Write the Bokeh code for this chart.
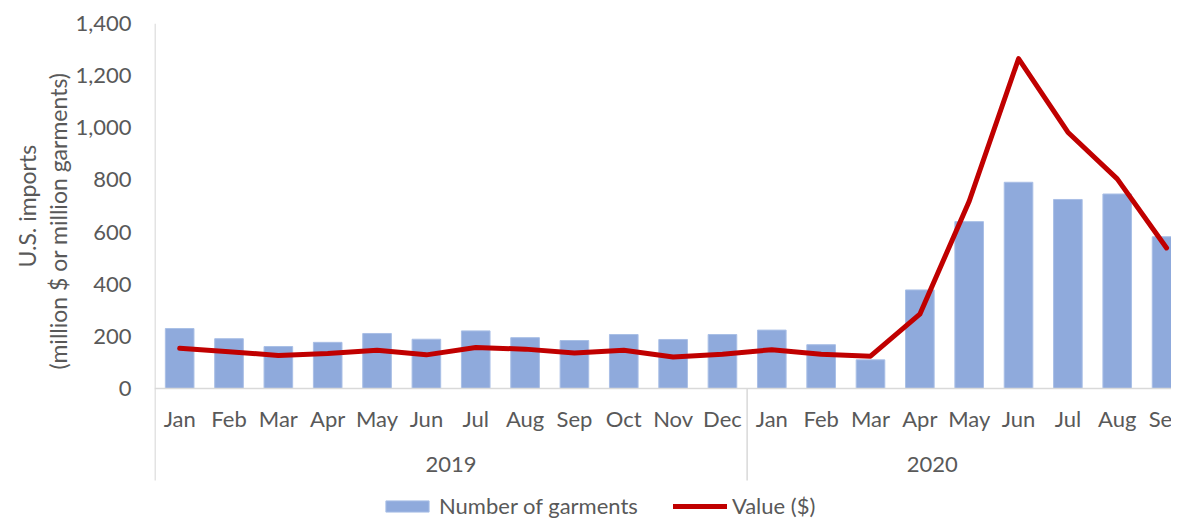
from bokeh.plotting import figure
from bokeh.models import (Range1d, FixedTicker, Legend, LegendItem, Span, Title,
                          ColumnDataSource, NumeralTickFormatter)
from bokeh.core.properties import value
from bokeh.embed import file_html
from bokeh.resources import INLINE

months = ["Jan", "Feb", "Mar", "Apr", "May", "Jun", "Jul", "Aug", "Sep", "Oct", "Nov", "Dec",
          "Jan", "Feb", "Mar", "Apr", "May", "Jun", "Jul", "Aug", "Sep"]
years = ["2019"] * 12 + ["2020"] * 9
garments = [230, 191, 161, 177, 211, 189, 221, 195, 184, 207, 188, 207,
            224, 168, 110, 378, 640, 791, 725, 746, 582]
value_usd = [154, 141, 127, 134, 147, 129, 157, 151, 136, 147, 121, 131,
             149, 131, 124, 285, 718, 1265, 983, 804, 539]
y_ticks = [0, 200, 400, 600, 800, 1000, 1200, 1400]
year_labels = ["2019", "2020"]
y_title = ["U.S. imports", "(million $ or million garments)"]

# layout constants (data units of the category / value scales)
YEAR_POS = [5.5, 15.25]
DIVIDERS = [-0.5, 11.5]
MONTH_Y = -115
YEAR_Y = -292
AXIS_BOTTOM = -353
# pixel offsets of the two title lines from the bottom of the plot frame
TITLE_OFFSETS = [252, 150]

FONT = "Lato"
TXT = "#595959"
GRAY = "#D9D9D9"
FS = "22px"

x = list(range(len(months)))
src = ColumnDataSource(dict(x=x, month=months, year=years,
                            garments=garments, value=value_usd))
ysrc = ColumnDataSource(dict(x=YEAR_POS, label=year_labels))

p = figure(width=1171, height=519, output_backend="svg", toolbar_location=None,
           x_range=Range1d(-0.51, 20.1), y_range=Range1d(-502.5, 1400),
           min_border_left=154, min_border_right=0, min_border_top=23,
           min_border_bottom=0, x_axis_location=None)
p.outline_line_color = None
p.xgrid.visible = False
p.ygrid.visible = False

r_bar = p.vbar(x="x", top="garments", width=0.58, source=src,
               fill_color="#8FAADC", line_color="#A9BFE6", line_width=1)
r_line = p.line(x="x", y="value", source=src, line_color="#C00000", line_width=5,
                line_join="round", line_cap="round")

# category axis drawn inside the frame
p.add_layout(Span(location=0, dimension="width", line_color=GRAY, line_width=1.5))
p.segment(x0=DIVIDERS[0], y0=AXIS_BOTTOM, x1=DIVIDERS[0], y1=y_ticks[-1],
          line_color=GRAY, line_width=1.5)
p.segment(x0=DIVIDERS[1], y0=AXIS_BOTTOM, x1=DIVIDERS[1], y1=0,
          line_color=GRAY, line_width=1.5)
p.text(x="x", y=MONTH_Y, text="month", source=src, text_align="center",
       text_baseline="middle", text_font=value(FONT), text_font_size=FS,
       text_color=TXT)
p.text(x="x", y=YEAR_Y, text="label", source=ysrc, text_align="center",
       text_baseline="middle", text_font=value(FONT), text_font_size=FS,
       text_color=TXT)

# y axis
yax = p.yaxis[0]
yax.ticker = FixedTicker(ticks=y_ticks)
yax.formatter = NumeralTickFormatter(format="0,0")
yax.major_tick_line_color = None
yax.minor_tick_line_color = None
yax.major_tick_out = 0
yax.major_tick_in = 0
yax.axis_line_color = None
yax.major_label_standoff = 23
yax.major_label_text_font = FONT
yax.major_label_text_font_size = FS
yax.major_label_text_color = TXT

# two-line y-axis title, placed alongside the value range (0..1400)
for txt, off in reversed(list(zip(y_title, TITLE_OFFSETS))):
    t = Title(text=txt, align="left", offset=off, standoff=1,
              text_font=FONT, text_font_size="23px", text_font_style="normal",
              text_color=TXT)
    p.add_layout(t, "left")

legend = Legend(items=[LegendItem(label="Number of garments", renderers=[r_bar]),
                       LegendItem(label="Value ($)", renderers=[r_line])],
                orientation="horizontal", location=(226, 0))
legend.padding = 0
legend.margin = 0
legend.spacing = 35
legend.label_standoff = 5
legend.glyph_width = 54
legend.glyph_height = 14
legend.label_text_font = FONT
legend.label_text_font_size = FS
legend.label_text_color = TXT
legend.border_line_color = None
legend.background_fill_alpha = 0
p.add_layout(legend, "center")

open("out.html", "w").write(file_html(p, INLINE))
